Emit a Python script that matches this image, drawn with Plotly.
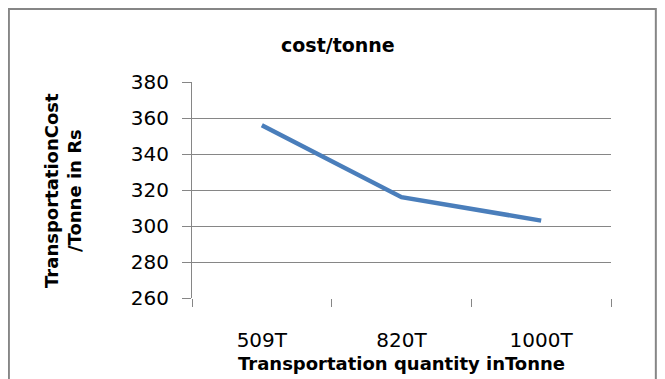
import plotly.graph_objects as go

categories = ["509T", "820T", "1000T"]
cost_per_tonne = [356, 316, 303]
y_ticks = [260, 280, 300, 320, 340, 360, 380]

FONT = "DejaVu Sans"
fig = go.Figure()
fig.add_trace(go.Scatter(
    x=categories, y=cost_per_tonne, mode="lines",
    line=dict(color="#4A7EBB", width=4.5),
    showlegend=False, hoverinfo="x+y",
))

# page body has an 8px margin, so the figure is shifted by 8px
fig.update_layout(
    width=657, height=371,
    margin=dict(l=184, r=54, t=74, b=81, autoexpand=False),
    paper_bgcolor="white", plot_bgcolor="white",
    font=dict(family=FONT, color="black"),
    showlegend=False,
)
fig.update_xaxes(
    type="category", tickson="boundaries", range=[-0.5, 2.5],
    ticks="outside", ticklen=8, tickcolor="#868686", tickwidth=1,
    showgrid=False, showline=False, automargin=False,
    tickfont=dict(size=20, family=FONT), ticklabelstandoff=28,
    zeroline=False,
)
fig.update_yaxes(
    range=[260, 380], tickvals=y_ticks, automargin=False,
    ticks="outside", ticklen=9, tickcolor="#868686", tickwidth=1,
    showgrid=True, gridcolor="#868686", gridwidth=1,
    showline=True, linecolor="#868686", linewidth=1,
    tickfont=dict(size=20, family=FONT), ticklabelstandoff=9,
    zeroline=False,
)

fig.add_annotation(text="<b>cost/tonne</b>", xref="paper", yref="paper",
                   x=0.348, y=1.171, showarrow=False,
                   font=dict(size=19, family=FONT), xanchor="center", yanchor="middle")
fig.add_annotation(text="<b>Transportation quantity inTonne</b>", xref="paper", yref="paper",
                   x=0.499, y=-0.301, showarrow=False,
                   font=dict(size=18, family=FONT), xanchor="center", yanchor="middle")
fig.add_annotation(text="<b>TransportationCost<br>/Tonne in Rs</b>", xref="paper", yref="paper",
                   x=-0.308, y=0.5, showarrow=False, textangle=-90,
                   font=dict(size=18, family=FONT), xanchor="center", yanchor="middle")

fig.add_shape(type="rect", xref="paper", yref="paper",
              x0=-0.437, x1=1.107, y0=-0.5, y1=1.338,
              line=dict(color="#868686", width=2), fillcolor="rgba(0,0,0,0)", layer="below")

fig.write_html("out.html")
